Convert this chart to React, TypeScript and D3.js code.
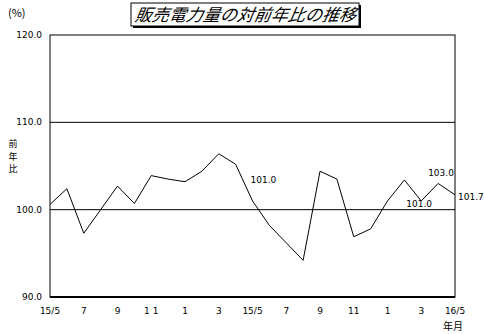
import React from "react";
import * as d3 from "d3";

const values = [100.6, 102.4, 97.3, 100.0, 102.7, 100.7, 103.9, 103.5, 103.2, 104.4, 106.4, 105.2,
  101.0, 98.2, 96.2, 94.2, 104.4, 103.5, 96.9, 97.8, 101.0, 103.4, 101.0, 103.0, 101.7];
const xTickLabels = ["15/5", "7", "9", "1 1", "1", "3", "15/5", "7", "9", "11", "1", "3", "16/5"];
const yTicks = [90, 100, 110, 120];
const gridValues = [100, 110];
const annotations = [
  { i: 12, text: "101.0", dx: -2, dy: -18 },
  { i: 22, text: "101.0", dx: -15, dy: 6 },
  { i: 23, text: "103.0", dx: -10, dy: -7 },
  { i: 24, text: "101.7", dx: 3, dy: 5 },
];

export default function App() {
  const W = 484, H = 334;
  const left = 50, right = 455, top = 35, bottom = 297;
  const x = d3.scaleLinear().domain([0, values.length - 1]).range([left, right]);
  const y = d3.scaleLinear().domain([90, 120]).range([bottom, top]);
  const line = d3.line<number>().x((_, i) => x(i)).y((d) => y(d));
  const numFont = "'DejaVu Sans', sans-serif";
  const jpFont = "'Noto Sans CJK JP', sans-serif";
  return (
    <svg width={W} height={H} style={{ position: "absolute", left: 0, top: 0, background: "#fff" }}>
      <text x={8} y={17} fontSize={11} fontFamily={jpFont}>(%)</text>
      {/* title box */}
      <rect x={133} y={5} width={228} height={23} fill="#000" />
      <rect x={131} y={3} width={228} height={23} fill="#fff" stroke="#000" strokeWidth={1} />
      <text x={245} y={21} fontSize={17} fontStyle="italic" fontFamily={jpFont} textAnchor="middle"
        transform="skewX(-10) translate(3.5,0)">販売電力量の対前年比の推移</text>
      {/* plot frame */}
      <rect x={left} y={top} width={right - left} height={bottom - top} fill="none" stroke="#000" strokeWidth={1} />
      {gridValues.map((g) => (
        <line key={g} x1={left} x2={right} y1={y(g)} y2={y(g)} stroke="#000" strokeWidth={1} />
      ))}
      <line x1={left} x2={right} y1={bottom} y2={bottom} stroke="#000" strokeWidth={2} />
      {yTicks.map((t) => (
        <text key={t} x={42} y={y(t) + 3} fontSize={9} fontFamily={numFont} textAnchor="end">{t.toFixed(1)}</text>
      ))}
      {xTickLabels.map((l, k) => (
        <text key={k} x={x(k * 2)} y={314} fontSize={9} fontFamily={numFont} textAnchor="middle">{l}</text>
      ))}
      <text x={453} y={330} fontSize={10} fontFamily={jpFont} textAnchor="middle">年月</text>
      {["前", "年", "比"].map((c, k) => (
        <text key={c} x={13} y={147 + k * 12.5} fontSize={9} fontFamily={jpFont} textAnchor="middle">{c}</text>
      ))}
      <path d={line(values) || ""} fill="none" stroke="#000" strokeWidth={1} />
      {annotations.map((a, k) => (
        <text key={k} x={x(a.i) + a.dx} y={y(values[a.i]) + a.dy} fontSize={9} fontFamily={numFont}>{a.text}</text>
      ))}
    </svg>
  );
}
